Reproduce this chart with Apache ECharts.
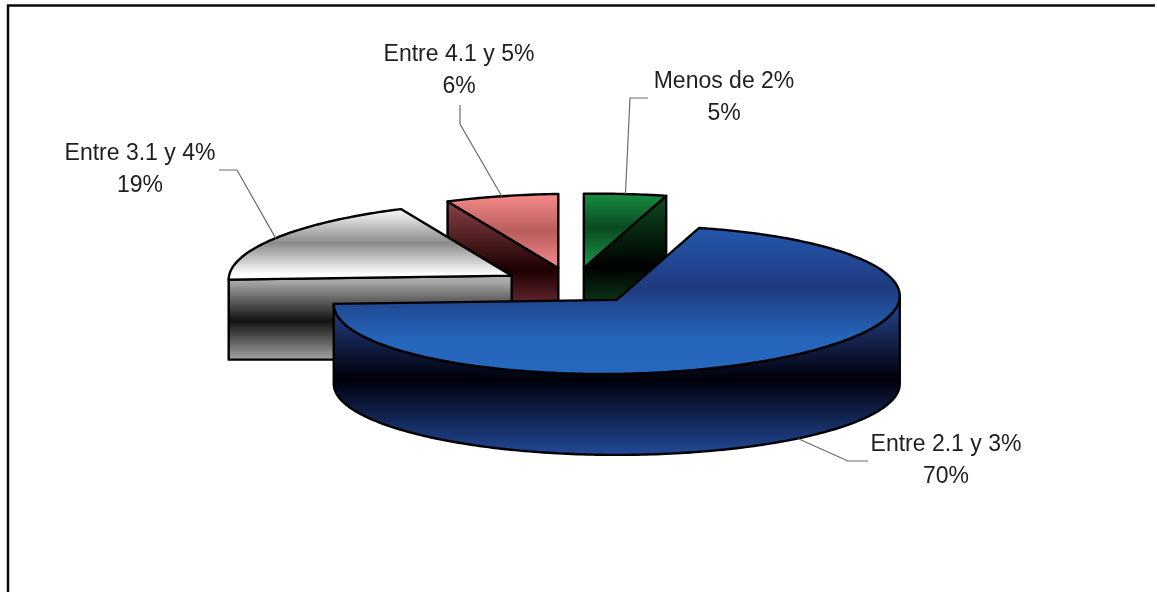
<!DOCTYPE html>
<html>
<head>
<meta charset="utf-8">
<title>Pie 3D</title>
<script src="https://cdn.jsdelivr.net/npm/echarts@6/dist/echarts.min.js"></script>
<style>
  html, body { margin: 0; padding: 0; background: #fff; }
  #chart { width: 1157px; height: 592px; }
</style>
</head>
<body>
<div id="chart"></div>
<script>
// data, labels show them rounded
const categories = ["Menos de 2%", "Entre 2.1 y 3%", "Entre 3.1 y 4%", "Entre 4.1 y 5%"]
const percents = [4.7, 70.3, 18.6, 6.4]

// pie geometry, Excel style exploded pie seen from above
const centerX = 573
const centerY = 285.5
const radiusX = 283
const radiusY = 74
const bottomRadiusY = 71
const depth = 84
const explodeX = 73.5
const explodeY = 17.9
const tilt = 0.014 // top face leans a little
const startAngle = 90

// back slices first so the big one covers them
const paintOrder = [1, 3, 2, 0]

// label center and leader knee points, one for each category
const labelCenters = [[724, 97.5], [946, 460.5], [140, 169.5], [459, 70.5]]
const leaderKnees = [
  [[630, 98], [648, 98]],
  [[848, 461], [868, 461]],
  [[237, 170], [219, 170]],
  [[460, 124], [460, 105]]
]
const leaderShift = [0, 3.2, 0, 0]

const stops = (list) => list.map((c) => ({ offset: c[0], color: c[1] }))
const grad = (y1, y2, list) => ({
  type: "linear", global: true, x: 0, y: y1, x2: 0, y2: y2, colorStops: stops(list)
})

const topFills = [
  grad(195, 268, [[0, "#168a40"], [0.45, "#0b4a22"], [1, "#1b9a48"]]),
  grad(228, 376, [[0, "#2558ad"], [0.4, "#1f3a80"], [0.75, "#2566bb"], [1, "#2668bf"]]),
  grad(208, 278, [[0, "#ffffff"], [0.5, "#8a8a8a"], [0.95, "#ffffff"], [1, "#ffffff"]]),
  grad(195, 268, [[0, "#f48a88"], [0.5, "#b85c5c"], [1, "#f48a88"]])
]
const sideFills = [
  grad(197, 352, [[0, "#0e4a20"], [0.45, "#000000"], [0.7, "#0a3a18"], [1, "#0e4a20"]]),
  grad(296, 456, [[0, "#2a4a9c"], [0.52, "#00000a"], [1, "#234a9a"]]),
  grad(281, 361, [[0, "#aaaaaa"], [0.5, "#111111"], [1, "#aaaaaa"]]),
  grad(203, 352, [[0, "#8a4048"], [0.45, "#1c0000"], [0.7, "#6a2a34"], [1, "#8a4048"]])
]

const total = percents.reduce((a, b) => a + b, 0)
const slices = []
let cursor = startAngle
percents.forEach((v) => {
  const sweep = (v / total) * 360
  slices.push({ high: cursor, low: cursor - sweep })
  cursor -= sweep
})

const rad = (d) => (d * Math.PI) / 180

function vertexOf(s) {
  const mid = rad((s.high + s.low) / 2)
  return [centerX + Math.cos(mid) * explodeX, centerY + Math.sin(mid) * explodeY * -1]
}
function topPoint(v, deg) {
  const dx = Math.cos(rad(deg)) * radiusX
  return [v[0] + dx, v[1] - Math.sin(rad(deg)) * radiusY - tilt * dx]
}
function bottomPoint(v, deg) {
  return [v[0] + Math.cos(rad(deg)) * radiusX, v[1] + depth - Math.sin(rad(deg)) * bottomRadiusY]
}
function arc(from, to, fn, v) {
  const pts = []
  const n = Math.max(2, Math.ceil(Math.abs(from - to)))
  for (let i = 0; i <= n; i++) pts.push(fn(v, from + ((to - from) * i) / n))
  return pts
}

function renderSlice(params) {
  const i = params.dataIndex
  const s = slices[i]
  const v = vertexOf(s)
  const z = (paintOrder[i] + 1) * 10
  const line = { stroke: "#000", lineWidth: 2.4, lineJoin: "round" }
  const children = []

  // flat cut faces which look toward the viewer
  ;[[s.high, 90], [s.low, -90]].forEach((f) => {
    if (Math.sin(rad(f[0] + f[1])) < -0.001) {
      const top = topPoint(v, f[0])
      const face = [v, top, [top[0], v[1] + depth], [v[0], v[1] + depth]]
      children.push({
        type: "polygon", z2: z,
        shape: { points: face },
        style: { fill: sideFills[i], ...line }
      })
    }
  })

  // outer wall, only the front half of the ellipse
  const from = Math.max(s.low, -180)
  const to = Math.min(s.high, 0)
  if (to > from) {
    const wall = arc(from, to, topPoint, v).concat(arc(to, from, bottomPoint, v))
    children.push({
      type: "polygon", z2: z + 1,
      shape: { points: wall },
      style: { fill: sideFills[i], ...line }
    })
  }

  // top face
  const face = [v].concat(arc(s.low, s.high, topPoint, v))
  children.push({
    type: "polygon", z2: z + 2,
    shape: { points: face },
    style: { fill: topFills[i], ...line }
  })

  // leader starts on the edge of the slice, on the wall for the front one
  const mid = (s.high + s.low) / 2 + leaderShift[i]
  const anchor = Math.sin(rad(mid)) < 0 ? bottomPoint(v, mid) : topPoint(v, mid)
  children.push({
    type: "polyline", z2: 60,
    shape: { points: [anchor].concat(leaderKnees[i]) },
    style: { fill: null, stroke: "#6b6b6b", lineWidth: 1.2 }
  })

  children.push({
    type: "text", z2: 70,
    style: {
      x: labelCenters[i][0],
      y: labelCenters[i][1],
      text: categories[i] + "\n" + Math.round(percents[i]) + "%",
      fill: "#1e1e1e",
      font: '23px "Liberation Sans", Arial, sans-serif',
      lineHeight: 32,
      align: "center",
      verticalAlign: "middle"
    }
  })

  return { type: "group", children: children }
}

const chart = echarts.init(document.getElementById("chart"))
chart.setOption({
  backgroundColor: "#ffffff",
  animation: false,
  // frame of the scanned picture
  graphic: [
    { type: "line", shape: { x1: 7, y1: 5.5, x2: 1155, y2: 5.5 }, style: { stroke: "#0a0a0a", lineWidth: 2.5 } },
    { type: "line", shape: { x1: 8, y1: 5, x2: 8, y2: 592 }, style: { stroke: "#0a0a0a", lineWidth: 2.5 } }
  ],
  series: [
    {
      type: "custom",
      coordinateSystem: "none",
      silent: true,
      renderItem: renderSlice,
      data: percents
    }
  ]
})

window.onresize = function () {
  chart.resize()
}
</script>
</body>
</html>
